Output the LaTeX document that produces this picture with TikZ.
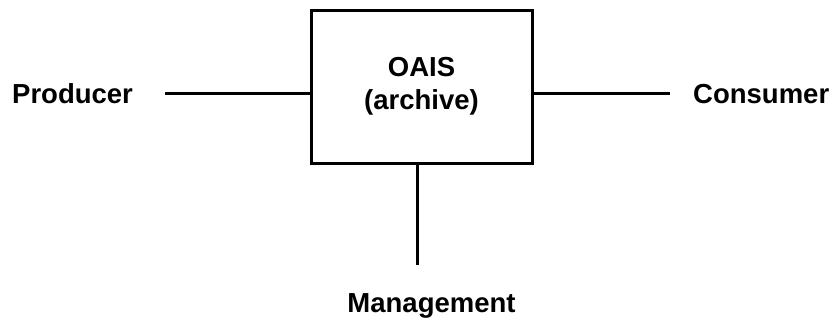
\documentclass[tikz,border=0pt]{standalone}
\usepackage{fontspec}
\setmainfont{Liberation Sans}
\begin{document}
\begin{tikzpicture}[x=1pt,y=-1pt,
		nhan/.style={inner sep=0pt,font=\fontsize{27.5}{33}\selectfont\bfseries},
		hop/.style={draw,line width=3pt,minimum width=221pt,minimum height=153pt,inner sep=0pt,align=center,font=\fontsize{27.5}{33}\selectfont\bfseries},
		noi/.style={line width=3pt}]
	\useasboundingbox (0,0) rectangle (834,327);
	%			Hop luu tru
	\node[hop] (oais) at (421.5,86.5) {OAIS\\(archive)};
	%			Cac ben
	\node[nhan,anchor=base west] (producer) at (12,103) {Producer};
	\node[nhan,anchor=base west] (consumer) at (693,103) {Consumer};
	\node[nhan,anchor=base] (management) at (431.5,312) {Management};
	%			Duong noi
	\coordinate (dp) at (165,93);
	\coordinate (dc) at (670,93);
	\coordinate (dm) at (417,265);
	\draw[noi] (dp) -- (dp -| oais.west) (oais.east |- dc) -- (dc) (dm |- oais.south) -- (dm);
\end{tikzpicture}
\end{document}
